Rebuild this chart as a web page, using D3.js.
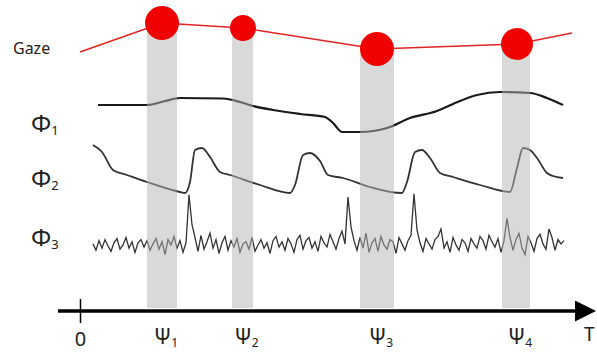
<!DOCTYPE html>
<html>
<head>
<meta charset="utf-8">
<script src="https://cdn.jsdelivr.net/npm/d3@7"></script>
<style>
  body { margin: 0; background: #fff; }
  text { font-family: "Noto Sans", "DejaVu Sans", sans-serif; fill: #222; }
</style>
</head>
<body>
<div id="chart"></div>
<script>
// time runs 0..100 along the axis
const gazeT = [0, 16.4, 32.6, 59.4, 87.4, 98.4];
const gazeLevel = [0.2, 0.925, 0.8, 0.275, 0.4, 0.675];
// fixations (index into gaze points), duration drives the dot size
const fixIndex = [1, 2, 3, 4];
const fixDuration = [300, 175, 300, 265];
const fixStart = [13.4, 30.4, 56, 84.4];
const fixEnd = [19.4, 34.6, 62.8, 90];
const fixLabels = ["1", "2", "3", "4"];

const phi1T = [3.6, 13.4, 17, 20, 28.6, 32, 34.6, 38.6, 44, 49, 50.6, 52.4, 56, 61.4, 66, 71.4, 74.6, 79.4, 84, 90, 93.4, 96.6];
const phi1V = [70, 70, 78, 84, 83, 76, 68, 60, 52, 46, 34, 16, 16, 24, 44, 58, 72, 90, 96, 94, 84, 70];

const phi2T = [2.6, 4.4, 6.6, 9.4, 13.4, 20, 21, 22, 23, 24.4, 26, 28, 30, 36, 42, 43, 44.6, 46, 48, 49.6, 52.6, 58, 64.4, 65.4, 67, 68.4, 70, 72, 74.6, 80, 86, 87.4, 88.6, 90, 91.4, 93.4, 94.6, 96.6];
const phi2V = [110, 96, 60, 50, 36, 16, 14, 36, 100, 104, 86, 56, 50, 30, 14, 30, 90, 94, 78, 50, 44, 26, 14, 36, 96, 100, 84, 54, 46, 30, 16, 64, 104, 100, 84, 54, 48, 44];

// phi3 sampled evenly from t=2.6, every 0.6
const phi3Start = 2.6, phi3Step = 0.6;
const phi3V = [
  2, -4, 5, -2, 6, 0, -5, 3, 7, -3,
  1, 8, -2, 4, -6, 3, 6, -1, 5, -4,
  2, 7, -3, 4, -8, 6, 1, 9, -2, 5,
  -6, 3, 48, 20, 8, -5, 10, -3, 4, 12,
  -2, 6, -7, 3, 9, -4, 5, -1, 7, -6,
  2, 4, -3, 8, -5, 1, 6, -2, 3, -7,
  5, 9, -1, 4, -4, 7, 2, -6, 6, 10,
  -3, 5, 8, -2, 4, -5, 9, 3, -1, 11,
  4, -3, 7, 14, 2, 46, 18, 5, -4, 8,
  -2, 12, -6, 3, 7, -5, 9, 1, -3, 6,
  4, -7, 8, 2, -4, 5, 10, 49, 15, 3,
  -5, 7, 2, -3, 6, 9, 16, -2, 4, -6,
  8, 1, -4, 6, 3, -5, 7, 2, -2, 9,
  5, -3, 10, 4, -1, 7, -6, 5, 26, 8,
  -4, 6, 12, -2, -8, 9, 3, -5, 7, 11,
  2, -3, 16, 8, -4, 6, 2, 5
];

const rowLabels = ["1", "2", "3"];

const width = 597, height = 354;
const axisY = 311;

const svg = d3.select("#chart").append("svg")
  .attr("width", width)
  .attr("height", height);

const x = d3.scaleLinear().domain([0, 100]).range([80, 580]);
const yGaze = d3.scaleLinear().domain([0, 1]).range([60, 20]);
const yPhi1 = d3.scaleLinear().domain([0, 110]).range([140, 85]);
const yPhi2 = d3.scaleLinear().domain([0, 110]).range([200, 145]);
const yPhi3 = d3.scaleLinear().domain([0, 46]).range([246, 197]);
const r = d3.scaleSqrt().domain([0, 300]).range([0, 17]);

const line = d3.line().curve(d3.curveMonotoneX);

// signal rows
svg.append("path")
  .attr("d", line(phi1T.map((t, i) => [x(t), yPhi1(phi1V[i])])))
  .attr("fill", "none").attr("stroke", "#1a1a1a").attr("stroke-width", 2.2);

svg.append("path")
  .attr("d", line(phi2T.map((t, i) => [x(t), yPhi2(phi2V[i])])))
  .attr("fill", "none").attr("stroke", "#333").attr("stroke-width", 1.8);

svg.append("path")
  .attr("d", d3.line()(phi3V.map((v, i) => [x(phi3Start + i * phi3Step), yPhi3(v)])))
  .attr("fill", "none").attr("stroke", "#333").attr("stroke-width", 1.3);

// fixation bands, laid over the signals
svg.selectAll("rect.band")
  .data(fixStart)
  .enter().append("rect")
  .attr("class", "band")
  .attr("x", d => x(d))
  .attr("width", (d, i) => x(fixEnd[i]) - x(d))
  .attr("y", (d, i) => yGaze(gazeLevel[fixIndex[i]]))
  .attr("height", (d, i) => axisY - 3 - yGaze(gazeLevel[fixIndex[i]]))
  .attr("fill", "#b4b4b4")
  .attr("opacity", 0.5);

// gaze path and fixation dots
svg.append("path")
  .attr("d", d3.line()(gazeT.map((t, i) => [x(t), yGaze(gazeLevel[i])])))
  .attr("fill", "none").attr("stroke", "#e02424").attr("stroke-width", 1.6);

svg.selectAll("circle")
  .data(fixIndex)
  .enter().append("circle")
  .attr("cx", d => x(gazeT[d]))
  .attr("cy", d => yGaze(gazeLevel[d]))
  .attr("r", (d, i) => r(fixDuration[i]))
  .attr("fill", "#f00000");

svg.append("text")
  .attr("x", 13).attr("y", 54)
  .style("font-size", "16px")
  .text("Gaze");

// row labels
const rowY = [132, 187, 246];
rowLabels.forEach((s, i) => {
  const t = svg.append("text")
    .attr("x", 31).attr("y", rowY[i])
    .style("font-size", "24px");
  t.append("tspan").text("Φ");
  t.append("tspan").attr("dy", 3).style("font-size", "13px").text(s);
});

// time axis
svg.append("defs").append("marker")
  .attr("id", "arrow")
  .attr("viewBox", "0 0 10 10")
  .attr("refX", 0).attr("refY", 5)
  .attr("markerWidth", 6).attr("markerHeight", 6)
  .attr("markerUnits", "strokeWidth")
  .attr("orient", "auto")
  .append("path")
  .attr("d", "M0,0L10,5L0,10Z")
  .attr("fill", "#000");

svg.append("line")
  .attr("x1", x(-4.4)).attr("x2", x(99))
  .attr("y1", axisY).attr("y2", axisY)
  .attr("stroke", "#000").attr("stroke-width", 3.5)
  .attr("marker-end", "url(#arrow)");

const axis = d3.axisBottom(x).tickValues([0]).tickSize(12).tickPadding(9);
const gAxis = svg.append("g")
  .attr("transform", `translate(0,${axisY})`)
  .call(axis);
gAxis.select(".domain").remove();
gAxis.selectAll(".tick line").attr("y1", -12).attr("stroke-width", 1.5);
gAxis.selectAll(".tick text")
  .style("font-size", "20px")
  .style("font-family", "'Noto Sans', sans-serif")
  .attr("fill", "#222");

svg.selectAll("text.psi")
  .data(fixStart)
  .enter().append("text")
  .attr("class", "psi")
  .attr("x", (d, i) => x((d + fixEnd[i]) / 2) - 8)
  .attr("y", 344)
  .style("font-size", "21px")
  .each(function (d, i) {
    d3.select(this).append("tspan").text("Ψ");
    d3.select(this).append("tspan").attr("dy", 3).style("font-size", "12px").text(fixLabels[i]);
  });

svg.append("text")
  .attr("x", 584).attr("y", 341)
  .style("font-size", "19px")
  .text("T");
</script>
</body>
</html>
